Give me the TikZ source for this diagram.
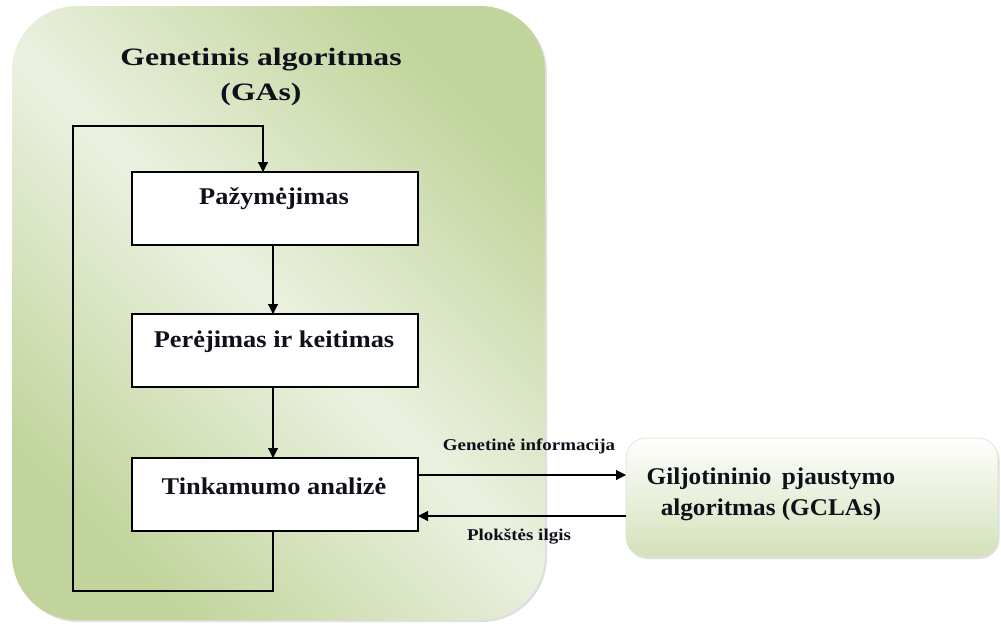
\documentclass[tikz,border=0pt]{standalone}
\usepackage{fontspec}
\setmainfont{Liberation Serif}
\usetikzlibrary{arrows.meta,shadows}
\definecolor{olivedark}{HTML}{C1D49B}
\definecolor{olivelight}{HTML}{EBF1E0}
\definecolor{olivebox}{HTML}{D3E1B9}
\definecolor{inkdark}{HTML}{10101A}
\begin{document}
\begin{tikzpicture}[x=1pt,y=-1pt,
  panel/.style={rounded corners=65pt, top color=olivedark, bottom color=olivedark,
    middle color=olivelight, shading angle=-45,
    drop shadow={shadow xshift=2pt, shadow yshift=-2pt, opacity=0.25}},
  stepbox/.style={draw=black, line width=1.2pt, fill=white},
  algobox/.style={rounded corners=20pt, draw=olivebox!80!black!40, top color=white!95!olivelight,
    bottom color=olivebox, line width=0.6pt,
    drop shadow={shadow xshift=1.5pt, shadow yshift=-2pt, opacity=0.25}},
  flow/.style={line width=1.2pt, -{Triangle[length=10pt,width=10pt]}},
  every node/.style={text=inkdark},
  title/.style={font=\bfseries\fontsize{25}{35}\selectfont, align=center, xscale=1.27},
  steptext/.style={font=\bfseries\fontsize{24}{28}\selectfont, xscale=1.1},
  small/.style={font=\bfseries\fontsize{16.5}{18}\selectfont, xscale=1.15}]
\useasboundingbox (0,0) rectangle (1001,625);

% genetic algorithm panel
\path[panel] (12,6) rectangle (545,620);
\node[title] (ttl) at (261,77) {Genetinis algoritmas\\(GAs)};

% steps
\path[stepbox] (132,172) rectangle (418,245);
\node[steptext] (s1) at (274,199) {Pažymėjimas};
\path[stepbox] (132,314) rectangle (418,387);
\node[steptext] (s2) at (274,342) {Perėjimas ir keitimas};
\path[stepbox] (132,458) rectangle (418,531);
\node[steptext] (s3) at (274,486) {Tinkamumo analizė};

\coordinate (b1top) at (263,172);
\coordinate (b1bot) at (273,245);
\coordinate (b2top) at (273,314);
\coordinate (b2bot) at (273,387);
\coordinate (b3top) at (273,458);
\coordinate (b3bot) at (273,531);
\coordinate (b3out) at (418,475);
\coordinate (b3in) at (418,516);

\draw[flow] (b1bot) -- (b2top);
\draw[flow] (b2bot) -- (b3top);
\draw[flow] (b3bot) -- (273,591) -- (73,591) -- (73,126) -- (263,126) -- (b1top);

% guillotine cutting box
\path[algobox] (626,438) rectangle (998,557);
\node[font=\bfseries\fontsize{24}{31}\selectfont, align=center, xscale=1.05] (gc) at (771,494)
  {Giljotininio\, pjaustymo\\algoritmas (GCLAs)};
\coordinate (gin) at (626,475);
\coordinate (gout) at (626,516);

\draw[flow] (b3out) -- (gin);
\draw[flow] (gout) -- (b3in);
\node[small] (l1) at (529,446) {Genetinė informacija};
\node[small] (l2) at (519,536) {Plokštės ilgis};
\end{tikzpicture}
\end{document}
